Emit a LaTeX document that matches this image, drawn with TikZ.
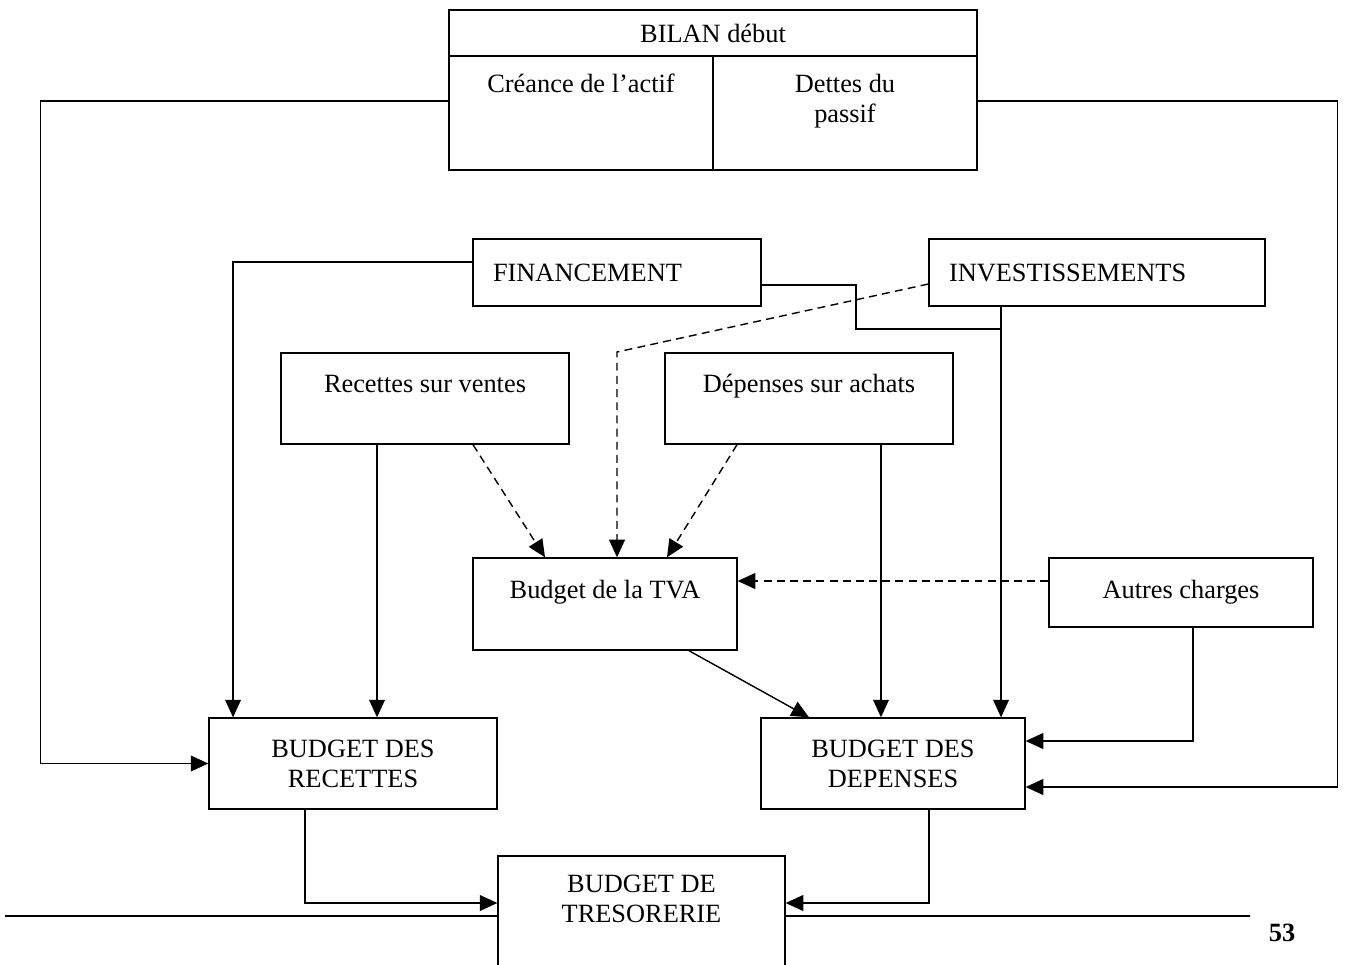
\documentclass[tikz,border=0pt]{standalone}
\usepackage{fontspec}
\setmainfont{Liberation Serif}
\usetikzlibrary{arrows.meta}

\begin{document}
\begin{tikzpicture}[x=0.02cm, y=-0.02cm,
    boite/.style={draw, line width=0.8pt, fill=white, align=center, inner sep=0pt, font=\fontsize{15}{17}\selectfont},
    lien/.style={line width=0.8pt, -{Triangle[length=10pt,width=9pt]}},
    trait/.style={line width=0.8pt},
    tirets/.style={dash pattern=on 4.5pt off 3pt}]
        \path[use as bounding box, fill=white] (0,0) rectangle (1345,964);
        \clip (0,0) rectangle (1345,964);

        % bilan de debut
        \node[boite, minimum width=10.56cm, minimum height=0.92cm, text depth=0pt] (bilan) at (713,33) {BILAN début};
        \node[boite, minimum width=5.28cm, minimum height=2.28cm] (actif) at (581,113) {Créance de l'actif\\~\\~};
        \node[boite, minimum width=5.28cm, minimum height=2.28cm] (passif) at (845,113) {Dettes du\\passif\\~};

        \node[boite, minimum width=5.76cm, minimum height=1.34cm, align=left, text width=4.96cm, inner xsep=0.4cm] (fin) at (617,272.5) {FINANCEMENT};
        \node[boite, minimum width=6.72cm, minimum height=1.34cm, align=left, text width=5.92cm, inner xsep=0.4cm] (inv) at (1097,272.5) {INVESTISSEMENTS};

        \node[boite, minimum width=5.76cm, minimum height=1.82cm] (ventes) at (425,398.5) {Recettes sur ventes\\~};
        \node[boite, minimum width=5.76cm, minimum height=1.82cm] (achats) at (809,398.5) {Dépenses sur achats\\~};
        \node[boite, minimum width=5.28cm, minimum height=1.84cm] (tva) at (605,604) {Budget de la TVA\\~};
        \node[boite, minimum width=5.28cm, minimum height=1.38cm] (autres) at (1181,592.5) {Autres charges};

        \node[boite, minimum width=5.76cm, minimum height=1.82cm] (recettes) at (353,763.5) {BUDGET DES\\RECETTES};
        \node[boite, minimum width=5.28cm, minimum height=1.82cm] (depenses) at (893,763.5) {BUDGET DES\\DEPENSES};
        \node[boite, minimum width=5.74cm, minimum height=2.32cm] (treso) at (641.5,914) {BUDGET DE\\TRESORERIE\\~};

        % liaisons du bilan
        \draw[lien] ([yshift=.24cm]actif.west) -- ++(-408,0) |- (recettes.west);
        \draw[lien] ([yshift=.24cm]passif.east) -- ++(360,0) |- ([yshift=-.47cm]depenses.east);

        % financement et investissements
        \coordinate (jonction) at (1001,329);
        \draw[lien] ([yshift=.21cm]fin.west) -| ([xshift=-2.4cm]recettes.north);
        \draw[trait] ([yshift=-.25cm]fin.east) -| (856,329) -- (jonction);
        \draw[lien] ([xshift=-1.92cm]inv.south) -- ([xshift=-1.92cm]inv.south |- depenses.north);
        \draw[lien, tirets] ([yshift=-.23cm]inv.west) -- (617,352) -- ([xshift=.24cm]tva.north);

        % ventes et achats
        \draw[lien] ([xshift=-.96cm]ventes.south) -- ([xshift=-.96cm]ventes.south |- recettes.north);
        \draw[lien, tirets] ([xshift=.96cm]ventes.south) -- ([xshift=-1.2cm]tva.north);
        \draw[lien, tirets] ([xshift=-1.44cm]achats.south) -- ([xshift=1.24cm]tva.north);
        \draw[lien] ([xshift=1.44cm]achats.south) -- ([xshift=1.44cm]achats.south |- depenses.north);

        % TVA et autres charges
        \draw[lien, tirets] ([yshift=.23cm]autres.west) -- ([yshift=.23cm]autres.west -| tva.east);
        \draw[lien] ([xshift=.24cm]autres.south) |- ([yshift=.45cm]depenses.east);
        \draw[lien] ([xshift=1.68cm]tva.south) -- ([xshift=-1.68cm]depenses.north);

        % tresorerie
        \draw[lien] ([xshift=-.96cm]recettes.south) |- ([yshift=.22cm]treso.west);
        \draw[lien] ([xshift=.72cm]depenses.south) |- ([yshift=.22cm]treso.east);

        % pied de page
        \coordinate (regleG) at (5,916);
        \coordinate (regleD) at (1250,916);
        \draw[line width=1.1pt] (regleG) -- ([yshift=-.04cm]treso.west);
        \draw[line width=1.1pt] ([yshift=-.04cm]treso.east) -- (regleD);
        \node[font=\bfseries\fontsize{15}{17}\selectfont] (page) at (1282,933) {53};
\end{tikzpicture}
\end{document}
